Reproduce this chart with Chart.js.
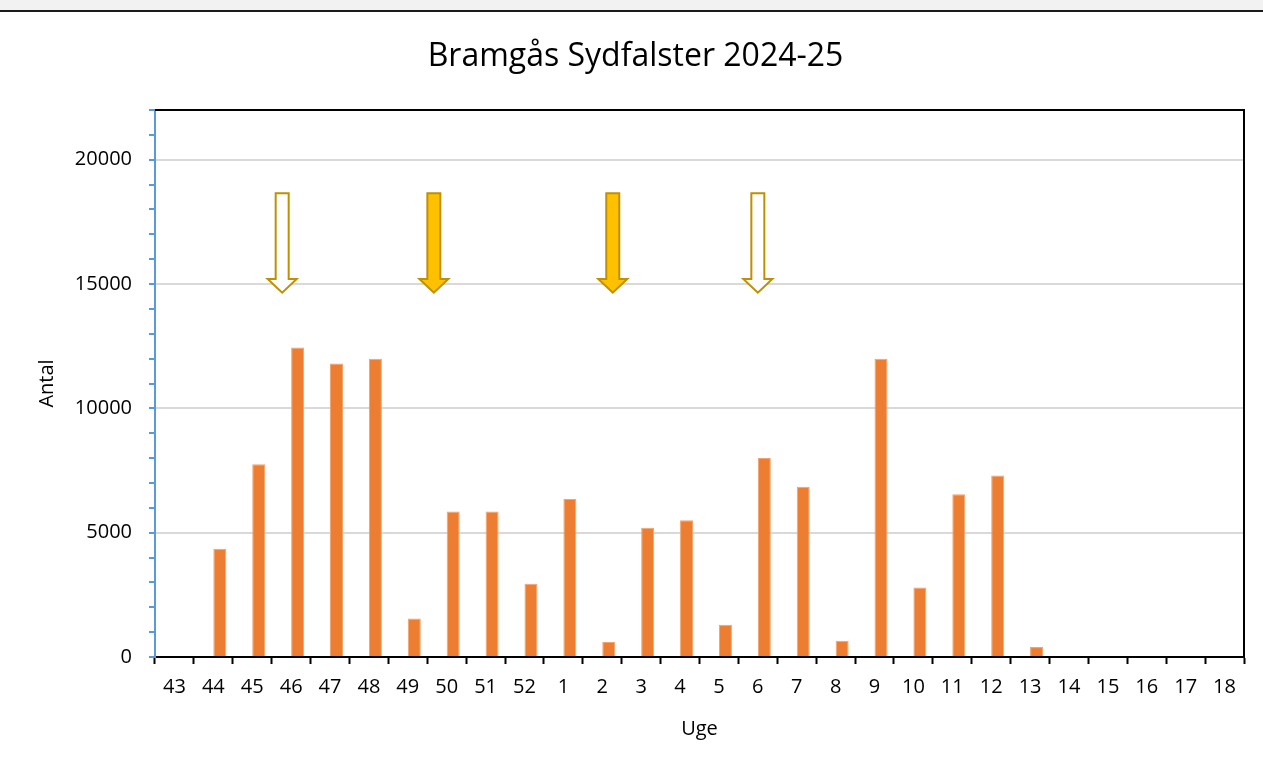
<!DOCTYPE html>
<html lang="da">
<head>
<meta charset="utf-8">
<title>Bramgås Sydfalster 2024-25</title>
<script src="https://cdn.jsdelivr.net/npm/chart.js@4.4.1/dist/chart.umd.min.js"></script>
<style>
    html, body { margin: 0; padding: 0; background: #fff; }
    #topbar { position: absolute; left: 0; top: 0; width: 1263px; height: 10px; background: #F2F2F2; border-bottom: 2px solid #1a1a1a; }
    #wrap { position: absolute; left: 0; top: 0; width: 1263px; height: 769px; }
</style>
</head>
<body>
<div id="wrap"><canvas id="chartBramgaas"></canvas></div>
<div id="topbar"></div>
<script>
// Uger (x-akse)
const uger = ['43', '44', '45', '46', '47', '48', '49', '50', '51', '52',
    '1', '2', '3', '4', '5', '6', '7', '8', '9', '10', '11', '12', '13', '14', '15', '16', '17', '18'];

// Antal bramgæs pr. uge
const antal = [0, 4350, 7750, 12450, 11800, 12000, 1550, 5850, 5850, 2950,
    6350, 600, 5200, 5500, 1300, 8000, 6850, 650, 12000, 2800, 6550, 7300, 400, 0, 0, 0, 0, 0];

// Tom serie (giver samme placering af søjlerne som i originalen)
const tomSerie = [];

// Pile: position på x-aksen (kategori-indeks) og om pilen er udfyldt
const pilPos = [2.77, 6.67, 11.27, 15.0];
const pilUdfyldt = [false, true, true, false];
const pilTop = 18650;
const pilHoved = 15200;
const pilSpids = 14650;

const yMax = 22000;

// Plugin til ramme og pile
const rammeOgPile = {
    id: 'rammeOgPile',
    afterDatasetsDraw(chart) {
        const { ctx, chartArea, scales } = chart;
        ctx.save();
        ctx.strokeStyle = '#000';
        ctx.lineWidth = 2;
        ctx.beginPath();
        ctx.moveTo(chartArea.left, chartArea.top);
        ctx.lineTo(chartArea.right, chartArea.top);
        ctx.lineTo(chartArea.right, chartArea.bottom);
        ctx.stroke();

        pilPos.forEach((p, i) => {
            const x = scales.x.getPixelForValue(p);
            const yt = scales.y.getPixelForValue(pilTop);
            const yh = scales.y.getPixelForValue(pilHoved);
            const ys = scales.y.getPixelForValue(pilSpids);
            const skaft = 6.5;
            const hoved = 14.5;
            ctx.beginPath();
            ctx.moveTo(x - skaft, yt);
            ctx.lineTo(x + skaft, yt);
            ctx.lineTo(x + skaft, yh);
            ctx.lineTo(x + hoved, yh);
            ctx.lineTo(x, ys);
            ctx.lineTo(x - hoved, yh);
            ctx.lineTo(x - skaft, yh);
            ctx.closePath();
            ctx.fillStyle = pilUdfyldt[i] ? '#FFC000' : '#FFFFFF';
            ctx.fill();
            ctx.strokeStyle = '#BF9000';
            ctx.lineWidth = 2;
            ctx.lineJoin = 'miter';
            ctx.stroke();
        });
        ctx.restore();
    }
};

const font = 'Open Sans';

const ctxBramgaas = document.getElementById('chartBramgaas').getContext('2d');
new Chart(ctxBramgaas, {
    type: 'bar',
    data: {
        labels: uger,
        datasets: [
            {
                label: '',
                data: tomSerie,
            },
            {
                label: 'Antal',
                data: antal,
                backgroundColor: '#ED7D31',
                borderColor: '#F3A36B',
                borderWidth: 1,
            },
        ],
    },
    options: {
        responsive: true,
        maintainAspectRatio: false,
        animation: false,
        datasets: {
            bar: { categoryPercentage: 0.668, barPercentage: 1 },
        },
        layout: {
            padding: { left: 27, right: 19, top: 0, bottom: 19 },
        },
        plugins: {
            legend: { display: false },
            tooltip: { enabled: false },
            title: {
                display: true,
                text: 'Bramgås Sydfalster 2024-25',
                color: '#000',
                font: { family: font, size: 32, weight: 'normal', lineHeight: 1.2 },
                padding: { top: 38, bottom: 33.6 },
            },
        },
        scales: {
            x: {
                grid: {
                    offset: true,
                    drawOnChartArea: false,
                    tickColor: '#000',
                    tickLength: 7,
                    tickWidth: 2,
                },
                border: { color: '#000', width: 2 },
                ticks: {
                    color: '#000',
                    font: { family: font, size: 20 },
                    padding: 11,
                    maxRotation: 0,
                    autoSkip: false,
                },
                title: {
                    display: true,
                    text: 'Uge',
                    color: '#000',
                    font: { family: font, size: 20 },
                    padding: { top: 0, bottom: 9 },
                },
                afterFit(scale) { scale.height = 769 - 657 - 19; },
            },
            y: {
                min: 0,
                max: yMax,
                grid: {
                    color: (c) => (c.tick && c.tick.value % 5000 === 0 && c.tick.value > 0 && c.tick.value < yMax) ? '#D9D9D9' : 'rgba(0,0,0,0)',
                    lineWidth: 2,
                    tickColor: '#5B9BD5',
                    tickLength: 6,
                    tickWidth: 2,
                },
                border: { color: '#5B9BD5', width: 2 },
                ticks: {
                    stepSize: 1000,
                    autoSkip: false,
                    color: '#000',
                    font: { family: font, size: 20 },
                    padding: 17,
                    callback: (v) => (v % 5000 === 0 ? v : ''),
                },
                title: {
                    display: true,
                    text: 'Antal',
                    color: '#000',
                    font: { family: font, size: 20 },
                    padding: { top: 8, bottom: 0 },
                },
                afterFit(scale) { scale.width = 155 - 27; },
            },
        },
    },
    plugins: [rammeOgPile],
});
</script>
</body>
</html>
